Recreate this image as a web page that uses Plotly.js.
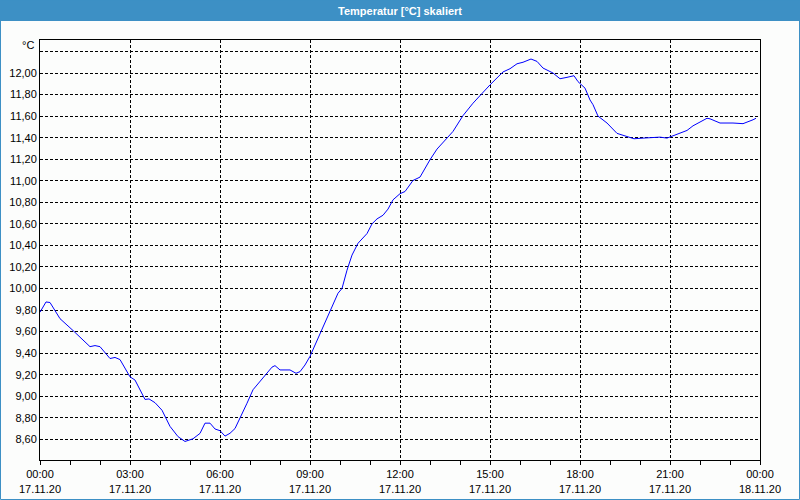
<!DOCTYPE html>
<html>
<head>
<meta charset="utf-8">
<script src="https://cdn.plot.ly/plotly-3.0.1.min.js"></script>
<style>html,body{margin:0;padding:0;background:#fcfdfc;}#chart{width:800px;height:500px;}</style>
</head>
<body>
<div id="chart"></div>
<script>
const day = "2020-11-17";
const times = ["00:00","00:12","00:20","00:40","01:06","01:40","01:50","02:00","02:20","02:30","02:40",
"03:00","03:10","03:30","03:38","03:50","04:04","04:20","04:36","04:50","05:06","05:20","05:30","05:40","05:50",
"06:00","06:10","06:20","06:30","06:40","06:54","07:06","07:20","07:34","07:44","07:50","08:00","08:20","08:32","08:40","08:50",
"09:00","09:20","09:40","09:56","10:04","10:14","10:24","10:36","10:54","11:04","11:14","11:26","11:36","11:46",
"12:00","12:10","12:26","12:40","13:00","13:14","13:34","13:46","14:06","14:26",
"15:00","15:26","15:40","15:54","16:06","16:22","16:34","16:46","17:06","17:20","17:34","17:48","17:56",
"18:10","18:20","18:26","18:36","18:44","18:54","19:14","19:34","19:48","20:06","20:40","20:54",
"21:14","21:34","21:46","22:14","22:20","22:40","23:06","23:26","23:46","23:52"];
const temps = [9.78,9.875,9.87,9.72,9.61,9.46,9.47,9.46,9.35,9.36,9.34,
9.18,9.15,8.97,8.975,8.94,8.87,8.72,8.625,8.58,8.605,8.655,8.75,8.75,8.696,
8.68,8.63,8.656,8.70,8.795,8.935,9.06,9.135,9.22,9.27,9.284,9.244,9.244,9.213,9.228,9.29,
9.37,9.585,9.80,9.956,10.0,10.17,10.31,10.42,10.51,10.60,10.646,10.68,10.737,10.823,
10.88,10.90,11.003,11.034,11.195,11.294,11.396,11.458,11.605,11.72,
11.89,12.01,12.04,12.086,12.10,12.13,12.108,12.046,12.0,11.947,11.96,11.975,11.92,
11.86,11.75,11.706,11.60,11.573,11.536,11.44,11.41,11.39,11.396,11.405,11.396,
11.433,11.467,11.51,11.58,11.575,11.536,11.536,11.53,11.566,11.58];
const tickTimes = ["2020-11-17 00:00","2020-11-17 03:00","2020-11-17 06:00","2020-11-17 09:00","2020-11-17 12:00",
"2020-11-17 15:00","2020-11-17 18:00","2020-11-17 21:00","2020-11-18 00:00"];
const tickLabels = ["00:00<br>17.11.20","03:00<br>17.11.20","06:00<br>17.11.20","09:00<br>17.11.20","12:00<br>17.11.20",
"15:00<br>17.11.20","18:00<br>17.11.20","21:00<br>17.11.20","00:00<br>18.11.20"];
const yTicks = [8.6,8.8,9.0,9.2,9.4,9.6,9.8,10.0,10.2,10.4,10.6,10.8,11.0,11.2,11.4,11.6,11.8,12.0,12.2];
const yLabels = ["8,60","8,80","9,00","9,20","9,40","9,60","9,80","10,00","10,20","10,40","10,60","10,80","11,00","11,20","11,40","11,60","11,80","12,00",""];
const titleText = "Temperatur [°C] skaliert";
const unitText = "°C";

const xs = times.map(t => day + " " + t);
const font = {family: "Liberation Sans, Arial, sans-serif", size: 10, color: "#000"};
const bg = "#fcfdfc";

Plotly.newPlot("chart", [{
  x: xs, y: temps, type: "scatter", mode: "lines",
  line: {color: "#0000ff", width: 1}, hoverinfo: "skip"
}], {
  width: 800, height: 500,
  margin: {l: 40, r: 40, t: 40, b: 40, pad: 0},
  paper_bgcolor: bg, plot_bgcolor: bg,
  showlegend: false,
  font: font,
  xaxis: {
    type: "date",
    range: ["2020-11-17 00:00", "2020-11-18 00:00"],
    tickmode: "array", tickvals: tickTimes, ticktext: tickLabels,
    ticks: "outside", ticklen: 4, tickcolor: "#000", tickwidth: 1,
    minor: {dtick: 3600000, ticks: "outside", ticklen: 4, tickcolor: "#000", showgrid: false},
    showgrid: true, gridcolor: "#000", gridwidth: 1, griddash: "3px,2px",
    showline: true, linecolor: "#000", linewidth: 1, mirror: true,
    zeroline: false, tickfont: {family: font.family, size: 11, color: "#000"}, fixedrange: true
  },
  yaxis: {
    range: [8.408, 12.3066],
    tickmode: "array", tickvals: yTicks, ticktext: yLabels,
    ticks: "", showgrid: true, gridcolor: "#000", gridwidth: 1, griddash: "3px,2px",
    showline: true, linecolor: "#000", linewidth: 1, mirror: true,
    zeroline: false, tickfont: {family: font.family, size: 11, color: "#000"}, fixedrange: true
  },
  shapes: [
    {type: "rect", xref: "paper", yref: "paper", x0: -40/720, x1: 1 + 40/720, y0: 1 + 19/420, y1: 1 + 40/420,
     fillcolor: "#3d90c5", line: {width: 0}, layer: "below"},
    {type: "rect", xref: "paper", yref: "paper", x0: -39.5/720, x1: 1 + 39.5/720, y0: -39.5/420, y1: 1 + 40/420,
     fillcolor: "rgba(0,0,0,0)", line: {color: "#3d90c5", width: 1}}
  ],
  annotations: [
    {text: "<b>" + titleText + "</b>", xref: "paper", yref: "paper", x: 0.5, y: 1 + 29.5/420,
     xanchor: "center", yanchor: "middle", showarrow: false,
     font: {family: font.family, size: 11, color: "#ffffff"}},
    {text: unitText, xref: "paper", yref: "paper", x: -4/720, y: 1 - 5/420,
     xanchor: "right", yanchor: "middle", showarrow: false,
     font: {family: font.family, size: 11, color: "#000"}}
  ]
}, {displayModeBar: false, staticPlot: true});
</script>
</body>
</html>
